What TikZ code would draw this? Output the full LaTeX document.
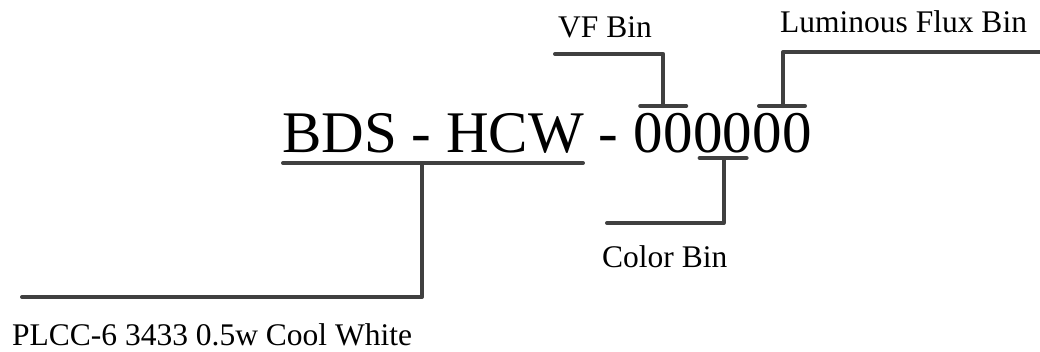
\documentclass[tikz,border=0pt]{standalone}
\usepackage{fontspec}
\setmainfont{Liberation Serif}
\usetikzlibrary{calc}

\begin{document}
\begin{tikzpicture}[x=1pt, y=-1pt,
    lead/.style={draw=black!75, line width=4pt, line cap=round, line join=round},
    code/.style={inner sep=0pt, anchor=base west, font=\fontsize{59}{60}\selectfont},
    binlabel/.style={inner sep=0pt, anchor=base west, font=\fontsize{31.5}{32}\selectfont}]
        \useasboundingbox (0, 0) rectangle (1040, 351);
        % the part number, cut into its fields
        \node[code] (bds) at (282, 152) {BDS - HCW};
        \node[code] (sep) at (bds.base east) {\ -\ \null};
        \node[code] (vf) at (sep.base east) {00};
        \node[code] (col) at (vf.base east) {00};
        \node[code] (lf) at (col.base east) {00};
        \node[binlabel] (vfbin) at (558, 37) {VF Bin};
        \node[binlabel] (lfbin) at (780, 32) {Luminous Flux Bin};
        \node[binlabel] (colbin) at (602, 267) {Color Bin};
        \node[binlabel] (plcc) at (12, 345) {PLCC-6 3433 0.5w Cool White};
        \coordinate (lfend) at (1046, 52);
        % ticks over and under the fields
        \draw[lead] ($(bds.base west)+(1, 11)$) -- ($(bds.base east)+(-1, 11)$);
        \draw[lead] ($(vf.base)+(-23, -46)$) -- ($(vf.base)+(23, -46)$);
        \draw[lead] ($(lf.base)+(-23, -46)$) -- ($(lf.base)+(23, -46)$);
        \draw[lead] ($(col.base)+(-23, 6)$) -- ($(col.base)+(24, 6)$);
        % leaders to the labels
        \draw[lead] ($(vf.base)+(0, -46)$) |- ($(vfbin.base west)+(-3, 17)$);
        \draw[lead] ($(lf.base)+(1, -46)$) |- (lfend);
        \draw[lead] ($(col.base)+(1, 6)$) |- ($(colbin.base west)+(5, -44)$);
        \draw[lead] ($(bds.base west)+(140, 11)$) |- ($(plcc.base west)+(10, -48)$);
\end{tikzpicture}
\end{document}
